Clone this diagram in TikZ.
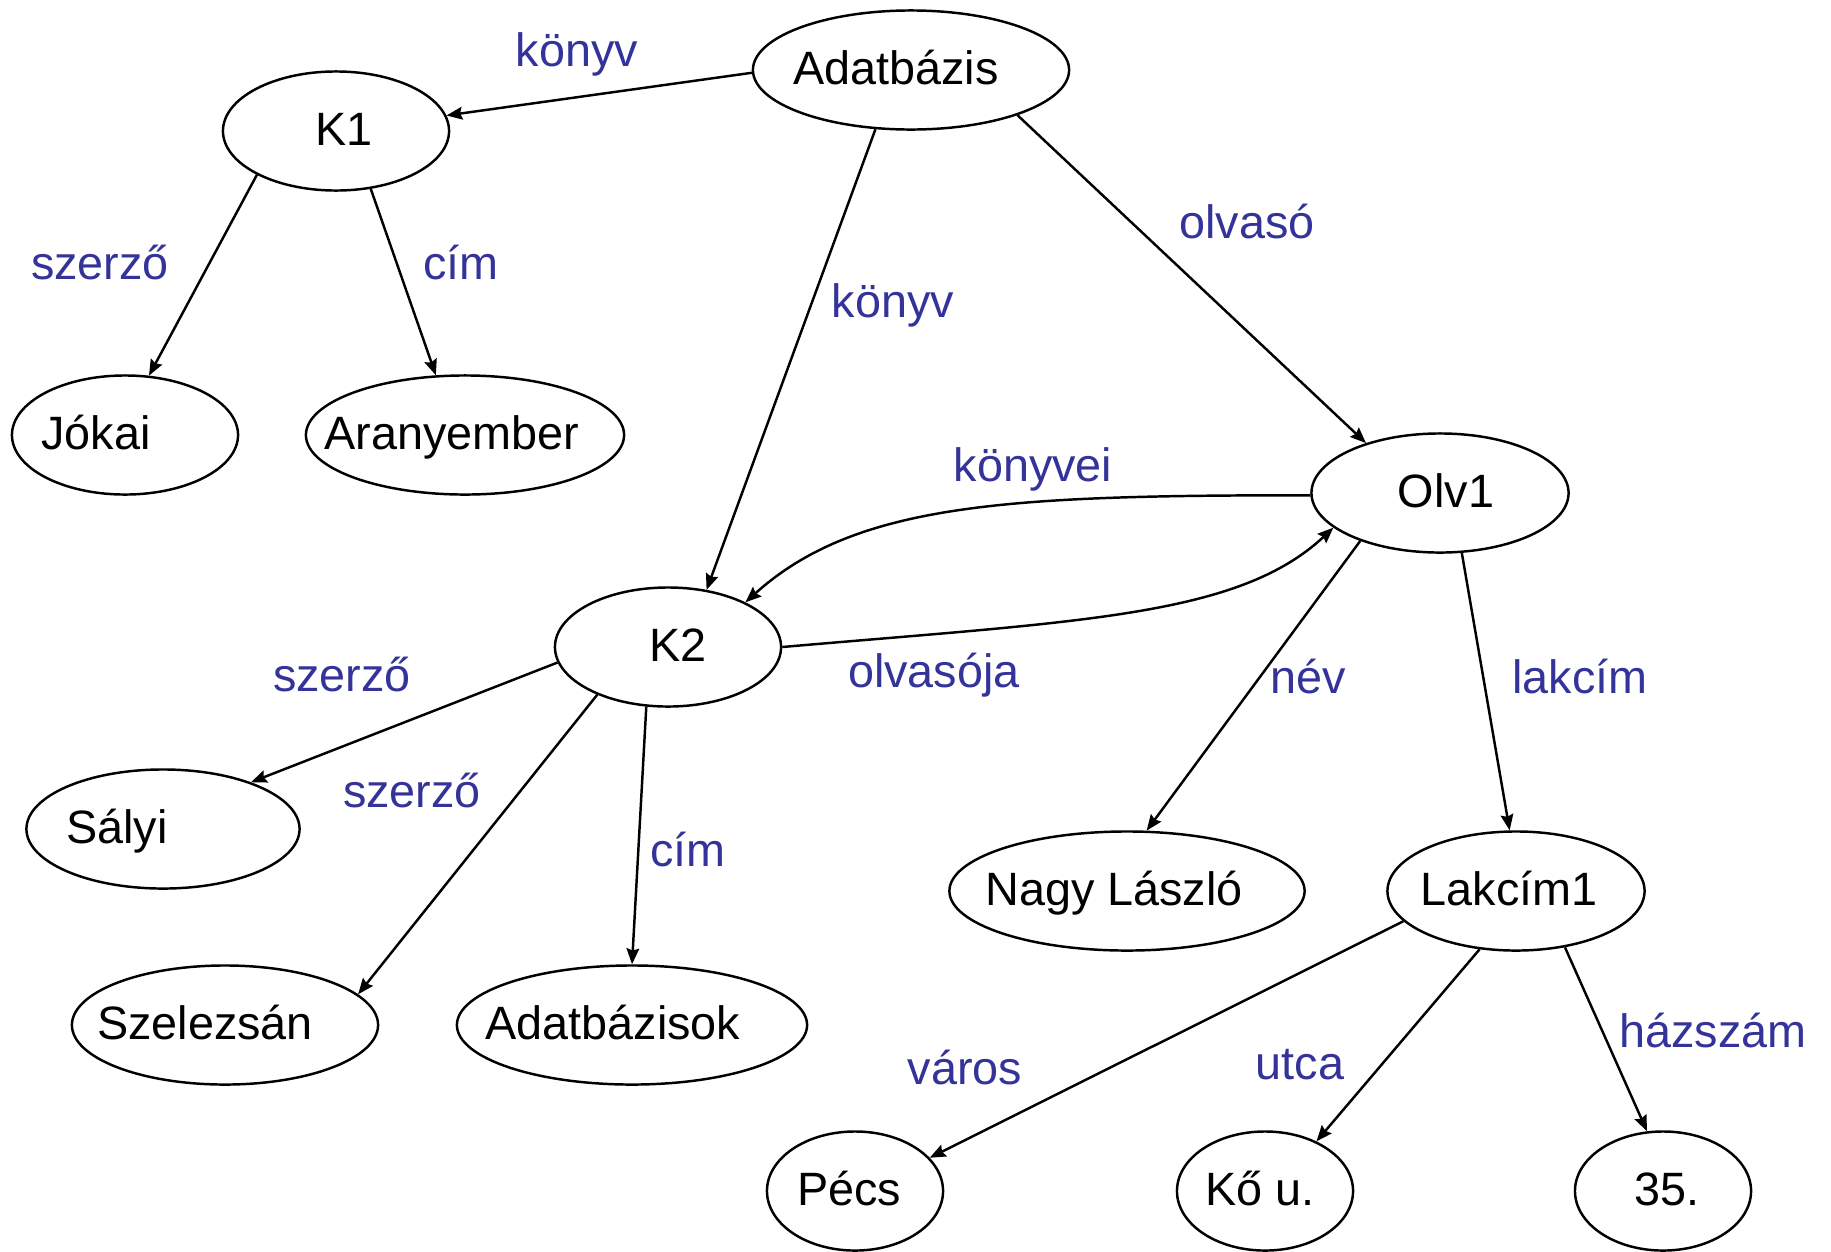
\documentclass[tikz,border=0pt]{standalone}
\usepackage{fontspec}
\setmainfont{Liberation Sans}
\usetikzlibrary{shapes.geometric, arrows.meta}
\definecolor{linkblue}{RGB}{51,51,153}
\newlength{\pxu}\setlength{\pxu}{0.01cm}
% text set off the centre of its ellipse
\newcommand{\etxt}[2]{\makebox[0pt]{\hspace*{\dimexpr #1\pxu*2\relax}#2}}
\tikzset{
	ent/.style={draw, ellipse, line width=0.7pt, inner sep=0pt, minimum height=1.19cm, text height=0.8em, text depth=0em},
	lbl/.style={text=linkblue, inner sep=0pt, text height=0.72em, text depth=0.21em},
	arr/.style={line width=0.7pt, -{Stealth[length=4.5pt, width=3.6pt, inset=0.6pt]}}
}

\begin{document}
\begin{tikzpicture}[x=0.01cm, y=-0.01cm, font=\fontsize{13.3}{16}\selectfont]
		\useasboundingbox (0,0) rectangle (1831,1251);
		% objects
		\node[ent, minimum width=3.16cm] (adat) at (911,70) {\etxt{-15}{Adatbázis}};
		\node[ent, minimum width=2.26cm] (k1) at (336,131) {\etxt{8}{K1}};
		\node[ent, minimum width=2.26cm] (jokai) at (125,435) {\etxt{-29}{Jókai}};
		\node[ent, minimum width=3.18cm] (arany) at (465,435) {\etxt{-13}{Aranyember}};
		\node[ent, minimum width=2.57cm] (olv1) at (1440,493) {\etxt{6}{Olv1}};
		\node[ent, minimum width=2.26cm] (k2) at (668,647) {\etxt{10}{K2}};
		\node[ent, minimum width=2.73cm] (salyi) at (163,829) {\etxt{-46}{Sályi}};
		\node[ent, minimum width=3.55cm] (nagy) at (1127,891) {\etxt{-13}{Nagy László}};
		\node[ent, minimum width=2.57cm] (lak1) at (1516,891) {\etxt{-7}{Lakcím1}};
		\node[ent, minimum width=3.06cm] (szel) at (225,1025) {\etxt{-20}{Szelezsán}};
		\node[ent, minimum width=3.50cm] (adatok) at (632,1025) {\etxt{-19}{Adatbázisok}};
		\node[ent, minimum width=1.76cm] (pecs) at (855,1191) {\etxt{-6}{Pécs}};
		\node[ent, minimum width=1.76cm] (ko) at (1265,1191) {\etxt{-5}{Kő u.}};
		\node[ent, minimum width=1.76cm] (hsz) at (1663,1191) {\etxt{4}{35.}};
		% edge names
		\node[lbl] (l1) at (577,58) {könyv};
		\node[lbl] (l2) at (100,271) {szerző};
		\node[lbl] (l3) at (461,271) {cím};
		\node[lbl] (l4) at (893,309) {könyv};
		\node[lbl] (l5) at (1247,230) {olvasó};
		\node[lbl] (l6) at (1033,473) {könyvei};
		\node[lbl] (l7) at (934,679) {olvasója};
		\node[lbl] (l8) at (342,683) {szerző};
		\node[lbl] (l9) at (412,799) {szerző};
		\node[lbl] (l10) at (688,858) {cím};
		\node[lbl] (l11) at (1308,685) {név};
		\node[lbl] (l12) at (1580,685) {lakcím};
		\node[lbl] (l13) at (965,1076) {város};
		\node[lbl] (l14) at (1300,1071) {utca};
		\node[lbl] (l15) at (1713,1039) {házszám};
		% edges
		\draw[arr] (adat.181)--(k1.8);
		\draw[arr] (adat.239)--(k2.56);
		\draw[arr] (adat.337)--(olv1.146);
		\draw[arr] (k1.209)--(jokai.68);
		\draw[arr] (k1.301)--(arany.116);
		\draw[arr] (olv1.181) .. controls +(-300,0) and +(111,-100) .. (k2.30);
		\draw[arr] (k2.0) .. controls +(299,-26) and +(-95,89) .. (olv1.198);
		\draw[arr] (k2.188)--(salyi.28);
		\draw[arr] (k2.214)--(szel.13);
		\draw[arr] (k2.250)--(adatok.90);
		\draw[arr] (olv1.211)--(nagy.72);
		\draw[arr] (olv1.290)--(lak1.96);
		\draw[arr] (lak1.195)--(pecs.24);
		\draw[arr] (lak1.238)--(ko.44);
		\draw[arr] (lak1.311)--(hsz.105);
\end{tikzpicture}
\end{document}
